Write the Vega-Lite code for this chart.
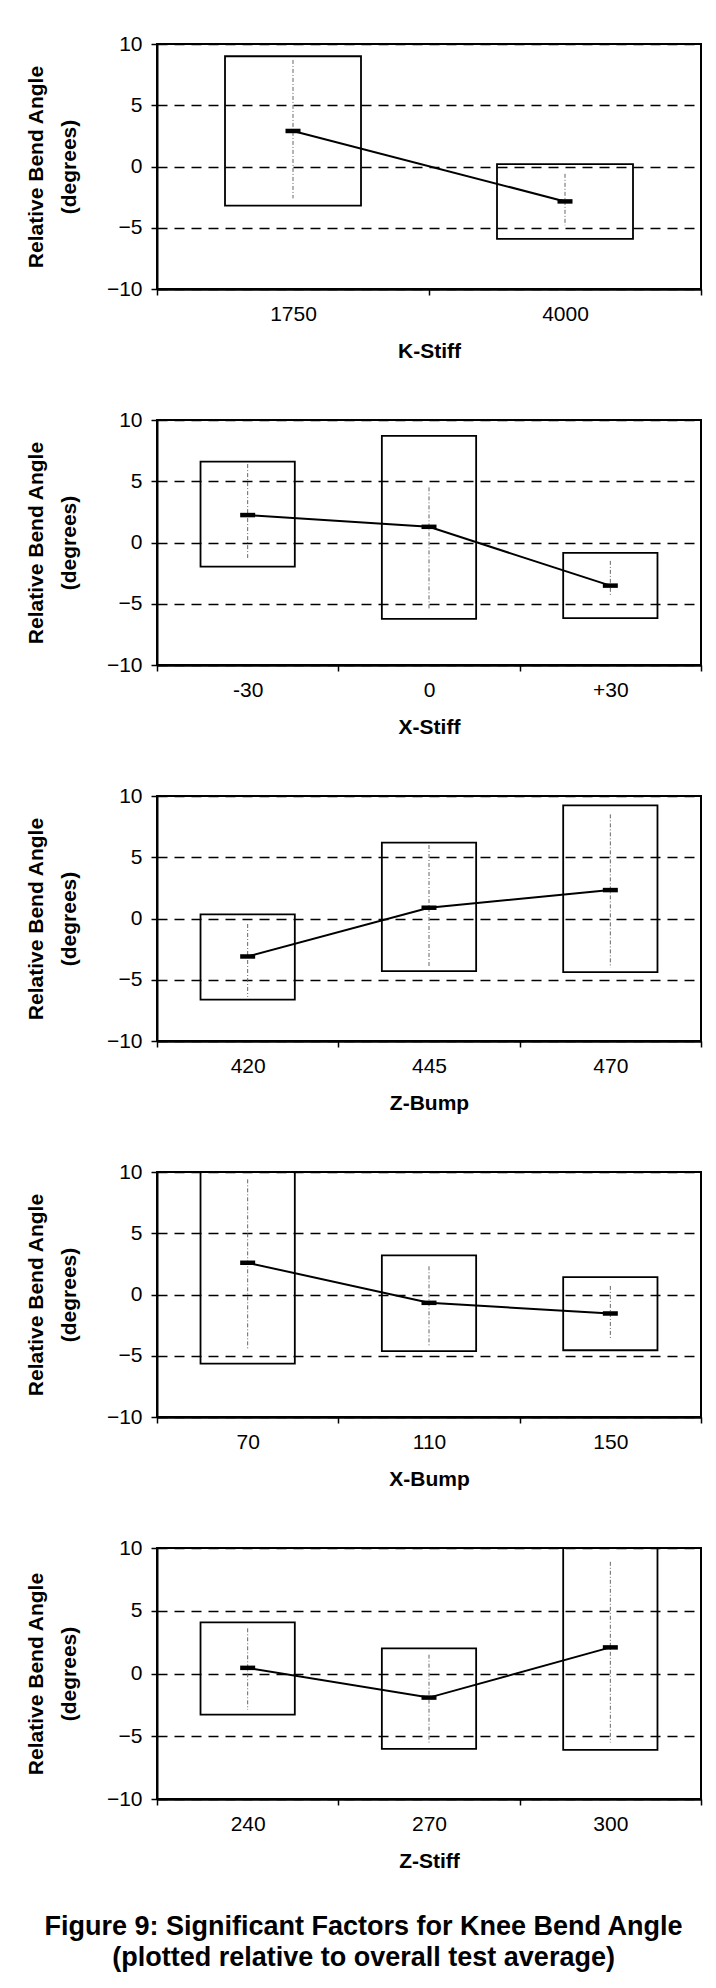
{
  "$schema": "https://vega.github.io/schema/vega-lite/v6.json",
  "background": "white",
  "padding": {"left": 24, "top": 32, "right": 10, "bottom": 10},
  "title": {
    "text": ["Figure 9: Significant Factors for Knee Bend Angle", "(plotted relative to overall test average)"],
    "orient": "bottom", "anchor": "middle", "fontSize": 27, "fontWeight": "bold",
    "lineHeight": 31, "offset": 42, "font": "Liberation Sans", "color": "black"
  },
  "spacing": 46,
  "datasets": {
    "kstiff": [
      {"level": "1750", "lo": -3.2, "hi": 9.0, "mean": 2.9, "wlo": -2.6, "whi": 8.7},
      {"level": "4000", "lo": -5.9, "hi": 0.2, "mean": -2.85, "wlo": -4.8, "whi": -0.6}
    ],
    "xstiff": [
      {"level": "-30", "lo": -1.97, "hi": 6.6, "mean": 2.24, "wlo": -1.26, "whi": 6.4},
      {"level": "0", "lo": -6.23, "hi": 8.7, "mean": 1.28, "wlo": -5.4, "whi": 4.5},
      {"level": "+30", "lo": -6.17, "hi": -0.85, "mean": -3.52, "wlo": -4.3, "whi": -1.5}
    ],
    "zbump": [
      {"level": "420", "lo": -6.63, "hi": 0.34, "mean": -3.1, "wlo": -6.4, "whi": -0.45},
      {"level": "445", "lo": -4.3, "hi": 6.2, "mean": 0.88, "wlo": -4.0, "whi": 6.0},
      {"level": "470", "lo": -4.38, "hi": 9.24, "mean": 2.32, "wlo": -4.0, "whi": 8.5}
    ],
    "xbump": [
      {"level": "70", "lo": -5.64, "hi": 10, "mean": 2.59, "wlo": -4.5, "whi": 9.4},
      {"level": "110", "lo": -4.63, "hi": 3.2, "mean": -0.68, "wlo": -4.2, "whi": 2.3},
      {"level": "150", "lo": -4.55, "hi": 1.42, "mean": -1.55, "wlo": -3.7, "whi": 0.7}
    ],
    "zstiff": [
      {"level": "240", "lo": -3.28, "hi": 4.08, "mean": 0.45, "wlo": -2.9, "whi": 3.6},
      {"level": "270", "lo": -6.0, "hi": 2.0, "mean": -1.92, "wlo": -5.5, "whi": 1.5},
      {"level": "300", "lo": -6.08, "hi": 10, "mean": 2.08, "wlo": -5.5, "whi": 8.9}
    ]
  },
  "vconcat": [
    {
      "width": 544, "height": 245,
      "data": {"name": "kstiff"},
      "encoding": {"x": {"field": "level", "type": "ordinal", "sort": null, "scale": {"paddingInner": 0, "paddingOuter": 0}, "title": "K-Stiff"}},
      "layer": [
        {"mark": {"type": "bar", "fill": "transparent", "stroke": "black", "strokeWidth": 1.8, "width": {"band": 0.5}},
         "encoding": {"y": {"field": "hi", "type": "quantitative", "scale": {"domain": [-10, 10], "nice": false}, "axis": {"values": [-10, -5, 0, 5, 10]}, "title": ["Relative Bend Angle", "(degrees)"]}, "y2": {"field": "lo"}}},
        {"mark": {"type": "rule", "stroke": "#666666", "strokeWidth": 1, "strokeDash": [4, 2, 1, 2]},
         "encoding": {"y": {"field": "whi", "type": "quantitative", "axis": {"values": [-10, -5, 0, 5, 10]}, "title": ["Relative Bend Angle", "(degrees)"]}, "y2": {"field": "wlo"}}},
        {"mark": {"type": "line", "color": "black", "strokeWidth": 2},
         "encoding": {"y": {"field": "mean", "type": "quantitative", "axis": {"values": [-10, -5, 0, 5, 10]}, "title": ["Relative Bend Angle", "(degrees)"]}}},
        {"mark": {"type": "tick", "color": "black", "size": 15, "thickness": 4.5, "opacity": 1},
         "encoding": {"y": {"field": "mean", "type": "quantitative", "axis": {"values": [-10, -5, 0, 5, 10]}, "title": ["Relative Bend Angle", "(degrees)"]}}}
      ]
    },
    {
      "width": 544, "height": 245,
      "data": {"name": "xstiff"},
      "encoding": {"x": {"field": "level", "type": "ordinal", "sort": null, "scale": {"paddingInner": 0, "paddingOuter": 0}, "title": "X-Stiff"}},
      "layer": [
        {"mark": {"type": "bar", "fill": "transparent", "stroke": "black", "strokeWidth": 1.8, "width": {"band": 0.52}},
         "encoding": {"y": {"field": "hi", "type": "quantitative", "scale": {"domain": [-10, 10], "nice": false}, "axis": {"values": [-10, -5, 0, 5, 10]}, "title": ["Relative Bend Angle", "(degrees)"]}, "y2": {"field": "lo"}}},
        {"mark": {"type": "rule", "stroke": "#666666", "strokeWidth": 1, "strokeDash": [4, 2, 1, 2]},
         "encoding": {"y": {"field": "whi", "type": "quantitative", "axis": {"values": [-10, -5, 0, 5, 10]}, "title": ["Relative Bend Angle", "(degrees)"]}, "y2": {"field": "wlo"}}},
        {"mark": {"type": "line", "color": "black", "strokeWidth": 2},
         "encoding": {"y": {"field": "mean", "type": "quantitative", "axis": {"values": [-10, -5, 0, 5, 10]}, "title": ["Relative Bend Angle", "(degrees)"]}}},
        {"mark": {"type": "tick", "color": "black", "size": 15, "thickness": 4.5, "opacity": 1},
         "encoding": {"y": {"field": "mean", "type": "quantitative", "axis": {"values": [-10, -5, 0, 5, 10]}, "title": ["Relative Bend Angle", "(degrees)"]}}}
      ]
    },
    {
      "width": 544, "height": 245,
      "data": {"name": "zbump"},
      "encoding": {"x": {"field": "level", "type": "ordinal", "sort": null, "scale": {"paddingInner": 0, "paddingOuter": 0}, "title": "Z-Bump"}},
      "layer": [
        {"mark": {"type": "bar", "fill": "transparent", "stroke": "black", "strokeWidth": 1.8, "width": {"band": 0.52}},
         "encoding": {"y": {"field": "hi", "type": "quantitative", "scale": {"domain": [-10, 10], "nice": false}, "axis": {"values": [-10, -5, 0, 5, 10]}, "title": ["Relative Bend Angle", "(degrees)"]}, "y2": {"field": "lo"}}},
        {"mark": {"type": "rule", "stroke": "#666666", "strokeWidth": 1, "strokeDash": [4, 2, 1, 2]},
         "encoding": {"y": {"field": "whi", "type": "quantitative", "axis": {"values": [-10, -5, 0, 5, 10]}, "title": ["Relative Bend Angle", "(degrees)"]}, "y2": {"field": "wlo"}}},
        {"mark": {"type": "line", "color": "black", "strokeWidth": 2},
         "encoding": {"y": {"field": "mean", "type": "quantitative", "axis": {"values": [-10, -5, 0, 5, 10]}, "title": ["Relative Bend Angle", "(degrees)"]}}},
        {"mark": {"type": "tick", "color": "black", "size": 15, "thickness": 4.5, "opacity": 1},
         "encoding": {"y": {"field": "mean", "type": "quantitative", "axis": {"values": [-10, -5, 0, 5, 10]}, "title": ["Relative Bend Angle", "(degrees)"]}}}
      ]
    },
    {
      "width": 544, "height": 245,
      "data": {"name": "xbump"},
      "encoding": {"x": {"field": "level", "type": "ordinal", "sort": null, "scale": {"paddingInner": 0, "paddingOuter": 0}, "title": "X-Bump"}},
      "layer": [
        {"mark": {"type": "bar", "fill": "transparent", "stroke": "black", "strokeWidth": 1.8, "width": {"band": 0.52}},
         "encoding": {"y": {"field": "hi", "type": "quantitative", "scale": {"domain": [-10, 10], "nice": false}, "axis": {"values": [-10, -5, 0, 5, 10]}, "title": ["Relative Bend Angle", "(degrees)"]}, "y2": {"field": "lo"}}},
        {"mark": {"type": "rule", "stroke": "#666666", "strokeWidth": 1, "strokeDash": [4, 2, 1, 2]},
         "encoding": {"y": {"field": "whi", "type": "quantitative", "axis": {"values": [-10, -5, 0, 5, 10]}, "title": ["Relative Bend Angle", "(degrees)"]}, "y2": {"field": "wlo"}}},
        {"mark": {"type": "line", "color": "black", "strokeWidth": 2},
         "encoding": {"y": {"field": "mean", "type": "quantitative", "axis": {"values": [-10, -5, 0, 5, 10]}, "title": ["Relative Bend Angle", "(degrees)"]}}},
        {"mark": {"type": "tick", "color": "black", "size": 15, "thickness": 4.5, "opacity": 1},
         "encoding": {"y": {"field": "mean", "type": "quantitative", "axis": {"values": [-10, -5, 0, 5, 10]}, "title": ["Relative Bend Angle", "(degrees)"]}}}
      ]
    },
    {
      "width": 544, "height": 251,
      "data": {"name": "zstiff"},
      "encoding": {"x": {"field": "level", "type": "ordinal", "sort": null, "scale": {"paddingInner": 0, "paddingOuter": 0}, "title": "Z-Stiff"}},
      "layer": [
        {"mark": {"type": "bar", "fill": "transparent", "stroke": "black", "strokeWidth": 1.8, "width": {"band": 0.52}},
         "encoding": {"y": {"field": "hi", "type": "quantitative", "scale": {"domain": [-10, 10], "nice": false}, "axis": {"values": [-10, -5, 0, 5, 10]}, "title": ["Relative Bend Angle", "(degrees)"]}, "y2": {"field": "lo"}}},
        {"mark": {"type": "rule", "stroke": "#666666", "strokeWidth": 1, "strokeDash": [4, 2, 1, 2]},
         "encoding": {"y": {"field": "whi", "type": "quantitative", "axis": {"values": [-10, -5, 0, 5, 10]}, "title": ["Relative Bend Angle", "(degrees)"]}, "y2": {"field": "wlo"}}},
        {"mark": {"type": "line", "color": "black", "strokeWidth": 2},
         "encoding": {"y": {"field": "mean", "type": "quantitative", "axis": {"values": [-10, -5, 0, 5, 10]}, "title": ["Relative Bend Angle", "(degrees)"]}}},
        {"mark": {"type": "tick", "color": "black", "size": 15, "thickness": 4.5, "opacity": 1},
         "encoding": {"y": {"field": "mean", "type": "quantitative", "axis": {"values": [-10, -5, 0, 5, 10]}, "title": ["Relative Bend Angle", "(degrees)"]}}}
      ]
    }
  ],
  "config": {
    "font": "Liberation Sans",
    "view": {"stroke": "black", "strokeWidth": 2},
    "axis": {
      "labelFont": "Liberation Sans", "titleFont": "Liberation Sans",
      "labelFontSize": 21, "titleFontSize": 21, "titleFontWeight": "bold",
      "labelColor": "black", "titleColor": "black",
      "domainColor": "black", "tickColor": "black",
      "domainWidth": 2, "tickWidth": 1.5, "tickSize": 6
    },
    "axisY": {
      "grid": true, "gridColor": "black",
      "gridDash": [10, 7], "gridWidth": 1.3, "labelPadding": 9,
      "titlePadding": 27, "titleLineHeight": 33
    },
    "axisX": {"tickBand": "extent", "labelAngle": 0, "labelPadding": 8, "titlePadding": 16, "grid": false, "domainWidth": 2.5}
  }
}
